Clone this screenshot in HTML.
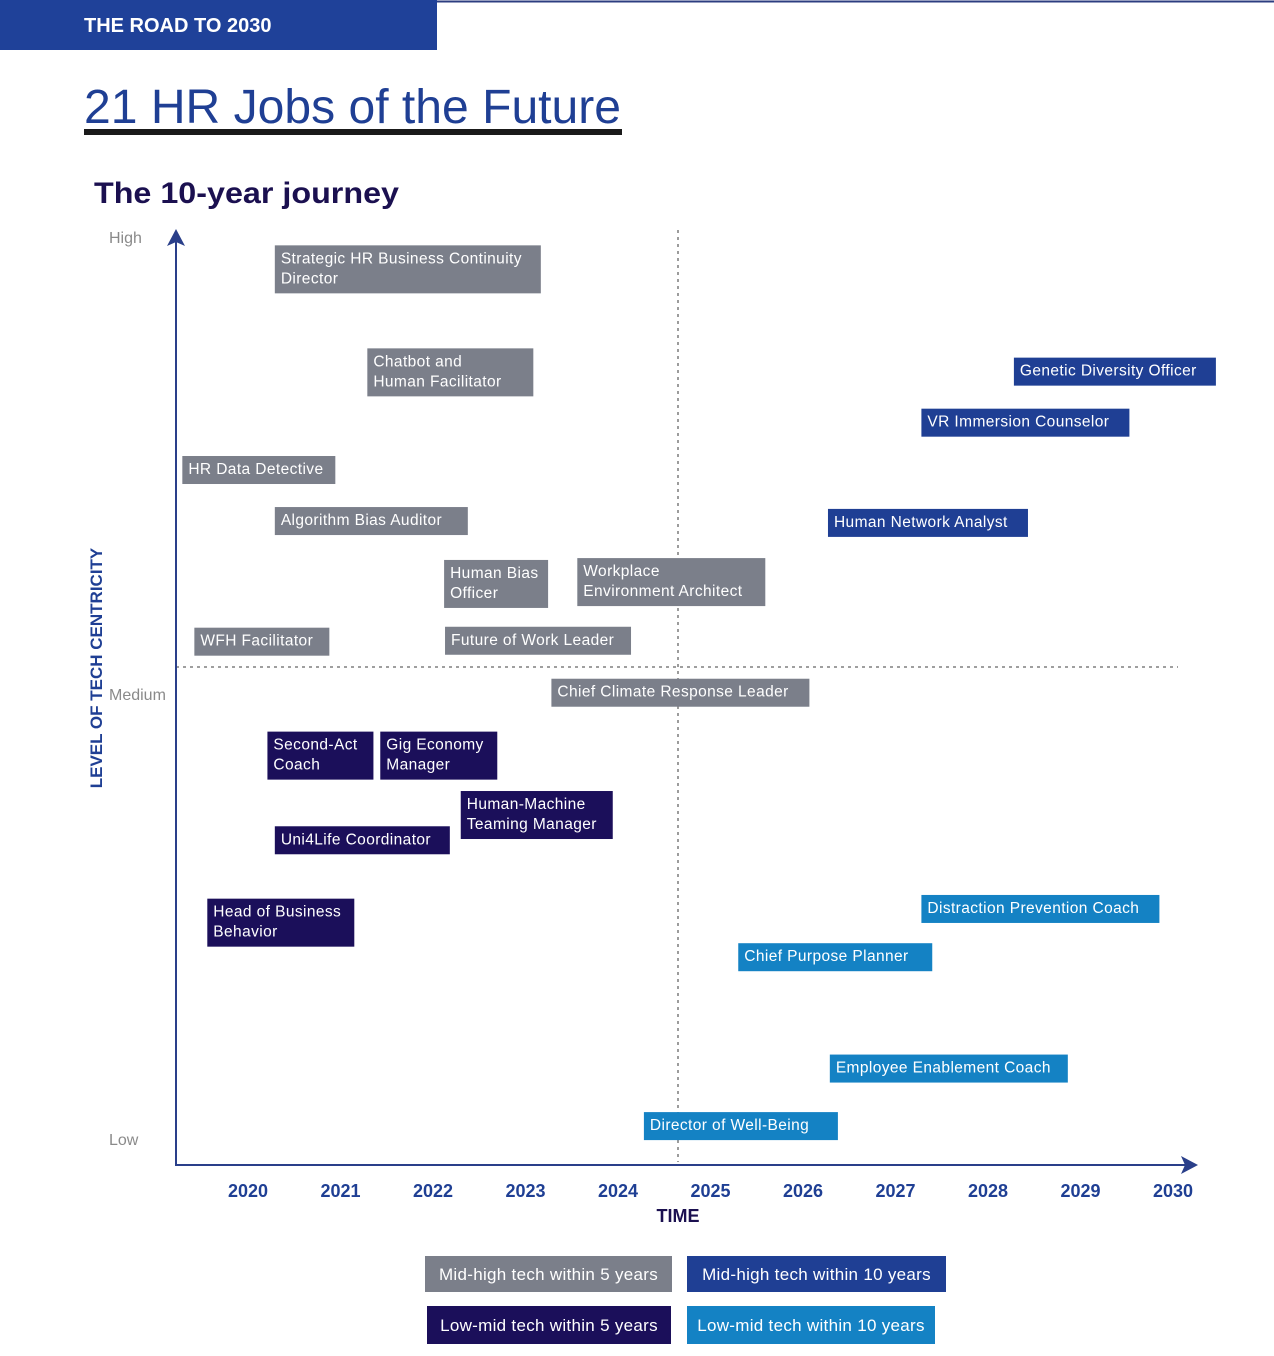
<!DOCTYPE html>
<html><head><meta charset="utf-8"><style>
html,body{margin:0;padding:0;background:#fff;}
svg{display:block;font-family:"Liberation Sans",sans-serif;}
</style></head><body>
<svg id="chart" width="1274" height="1356" viewBox="0 0 1274 1356" xmlns="http://www.w3.org/2000/svg">
<rect x="0" y="0" width="437" height="50" fill="#1f4199"/>
<line x1="437" y1="1.5" x2="1274" y2="1.5" stroke="#2c3e80" stroke-width="2"/>
<text x="84" y="32" fill="#fff" font-size="20" font-weight="bold">THE ROAD TO 2030</text>
<text x="84" y="123" fill="#1f3f94" font-size="48" textLength="537" lengthAdjust="spacingAndGlyphs">21 HR Jobs of the Future</text>
<rect x="84" y="129" width="538" height="6" fill="#1a1a1a"/>
<text x="94" y="203" fill="#1b1050" font-size="30" font-weight="bold" textLength="305" lengthAdjust="spacingAndGlyphs">The 10-year journey</text>
<g id="axes"></g>
<g id="boxes"></g>
<g id="legend"></g>
</svg>
<script>
const years = [2020,2021,2022,2023,2024,2025,2026,2027,2028,2029,2030];
const jobLines = [
 ["Strategic HR Business Continuity","Director"],
 ["Chatbot and","Human Facilitator"],
 ["HR Data Detective"],
 ["Algorithm Bias Auditor"],
 ["Human Bias","Officer"],
 ["Workplace","Environment Architect"],
 ["WFH Facilitator"],
 ["Future of Work Leader"],
 ["Chief Climate Response Leader"],
 ["Genetic Diversity Officer"],
 ["VR Immersion Counselor"],
 ["Human Network Analyst"],
 ["Second-Act","Coach"],
 ["Gig Economy","Manager"],
 ["Human-Machine","Teaming Manager"],
 ["Uni4Life Coordinator"],
 ["Head of Business","Behavior"],
 ["Distraction Prevention Coach"],
 ["Chief Purpose Planner"],
 ["Employee Enablement Coach"],
 ["Director of Well-Being"]
];
const jobYear = [2020.29,2021.29,2019.29,2020.29,2022.12,2023.56,2019.42,2022.13,2023.28,2028.28,2027.28,2026.27,2020.21,2021.43,2022.30,2020.29,2019.56,2027.28,2025.30,2026.29,2024.28];
const jobLevel = [99.1,88.0,76.4,70.9,65.2,65.4,57.9,58.0,52.4,87.0,81.5,70.7,46.7,46.7,40.3,36.5,28.7,29.1,23.9,11.9,5.7];
const jobCat = [0,0,0,0,0,0,0,0,0,1,1,1,2,2,2,2,2,3,3,3,3];
const catNames = ["Mid-high tech within 5 years","Mid-high tech within 10 years","Low-mid tech within 5 years","Low-mid tech within 10 years"];
const boxW = [266,166,153,193,104,188,135,186,258,202,208,200,106,117,152,175,147,238,194,238,194];
const catColors = ["#7b7f8a","#1f3f94","#1b0f5a","#1482c4"];
const NS="http://www.w3.org/2000/svg";
const xS = v => 248 + (v-2020)*92.5;
const yS = v => 1165 - v*9.28;
function mk(tag, attrs, parent){const e=document.createElementNS(NS,tag);for(const k in attrs)e.setAttribute(k,attrs[k]);parent.appendChild(e);return e;}
const ax=document.getElementById('axes');
let e;
e=mk('line',{x1:678,y1:230,x2:678,y2:1162,stroke:'#666','stroke-width':1.3,'stroke-dasharray':'3,4'},ax);

e=mk('line',{x1:176,y1:667,x2:1178,y2:667,stroke:'#666','stroke-width':1.3,'stroke-dasharray':'3,4'},ax);

e=mk('line',{x1:176,y1:240,x2:176,y2:1166,stroke:'#2a3f8a','stroke-width':2},ax);

e=mk('path',{d:'M176 229 L185 246 L176 242 L167 246 Z',fill:'#2a3f8a'},ax);

e=mk('line',{x1:175,y1:1165,x2:1188,y2:1165,stroke:'#2a3f8a','stroke-width':2},ax);

e=mk('path',{d:'M1198 1165 L1181 1156 L1185 1165 L1181 1174 Z',fill:'#2a3f8a'},ax);

[['High',243],['Medium',700],['Low',1145]].forEach(([t,y])=>{
 const te=mk('text',{x:109,y:y,fill:'#8a8a8a','font-size':16},ax);te.textContent=t;
 
});
e=mk('text',{x:0,y:0,fill:'#1f3f94','font-size':17,'font-weight':'bold','text-anchor':'middle',transform:'translate(102,668) rotate(-90)'},ax);
e.textContent='LEVEL OF TECH CENTRICITY';

years.forEach(yv=>{
 const te=mk('text',{x:xS(yv),y:1197,fill:'#1f3f94','font-size':18,'font-weight':'bold','text-anchor':'middle'},ax);
 te.textContent=yv;
 
});
e=mk('text',{x:678,y:1222,fill:'#1b1050','font-size':18,'font-weight':'bold','text-anchor':'middle'},ax);
e.textContent='TIME';


const bx=document.getElementById('boxes');
jobLines.forEach((lines,i)=>{
 const g=mk('g',{},bx);
 
 
 const x=xS(jobYear[i]), y=yS(jobLevel[i]);
 const h=lines.length===1?28:48;
 mk('rect',{x:x,y:y,width:boxW[i],height:h,fill:catColors[jobCat[i]]},g);
 lines.forEach((ln,j)=>{
  const t=mk('text',{x:x+6,y:y+18+j*20,fill:'#fff','font-size':15.5,'letter-spacing':0.4},g);
  t.textContent=ln;
 });
});

const lg=document.getElementById('legend');
const legPos=[[425,1256,247,36],[687,1256,259,36],[427,1306,244,38],[687,1306,248,38]];
catNames.forEach((n,i)=>{
 const g=mk('g',{},lg);
 
 
 const p=legPos[i];
 mk('rect',{x:p[0],y:p[1],width:p[2],height:p[3],fill:catColors[i]},g);
 const t=mk('text',{x:p[0]+p[2]/2,y:p[1]+p[3]/2+6,fill:'#fff','font-size':17,'text-anchor':'middle','letter-spacing':0.3},g);
 t.textContent=n;
});
</script>
</body></html>
